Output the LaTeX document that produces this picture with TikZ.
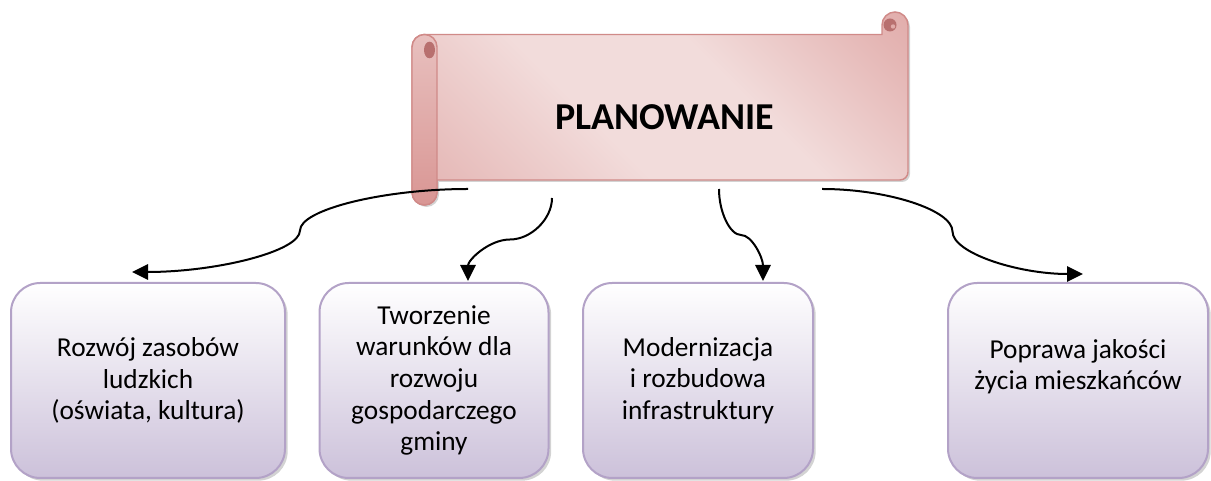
\documentclass[tikz,border=0pt]{standalone}
\usepackage{fontspec}
\setmainfont{Carlito}
\usepackage{tikz}
\usetikzlibrary{positioning,calc,arrows.meta,shadows}
\definecolor{rosedark}{HTML}{D99694}
\definecolor{roselight}{HTML}{F2DCDB}
\definecolor{roseline}{HTML}{D08A88}
\definecolor{rosecurl}{HTML}{B8706F}
\definecolor{lilac}{HTML}{CCC1DA}
\definecolor{lilacline}{HTML}{B3A2C7}
\pgfdeclareverticalshading{scrollfill}{100bp}{color(0bp)=(rosedark!85!roselight); color(22bp)=(rosedark!45!roselight); color(42bp)=(roselight); color(60bp)=(roselight); color(80bp)=(rosedark!55!roselight); color(100bp)=(rosedark)}

\begin{document}
\begin{tikzpicture}[x=0.75pt,y=0.75pt,node distance=0.2cm,on grid,
  box/.style={rectangle,rounded corners=22pt,draw=lilacline,line width=1.5pt,top color=white,bottom color=lilac,minimum height=146.25pt,align=center,font=\fontsize{20.5}{23.75}\selectfont,drop shadow={shadow xshift=2pt,shadow yshift=-2pt,opacity=0.35}},
  conn/.style={-{Triangle[length=12pt,width=11.5pt]},line width=1.5pt}]
\useasboundingbox (0,0) rectangle (1211,481);
\path[draw=roseline,line width=1.1pt,shading=scrollfill,shading angle=-45,drop shadow={shadow xshift=1.5pt,shadow yshift=-1.5pt,opacity=0.35}] (424.5,446.5) -- (882,446.5) -- (882,456) arc[start angle=180,end angle=0,radius=13] -- (908,309) arc[start angle=0,end angle=-90,radius=8] -- (437,301) -- (437,288.5) arc[start angle=0,end angle=-180,radius=12.5] -- (412,434) arc[start angle=180,end angle=90,radius=12.5] -- cycle;
\path[draw=roseline,line width=1.1pt,top color=roselight!60!rosedark,bottom color=rosedark] (412,434) -- (412,288.5) arc[start angle=180,end angle=360,radius=12.5] -- (437,434) arc[start angle=0,end angle=180,radius=12.5] -- cycle;
\fill[rosecurl] (429.5,431) ellipse[x radius=5.5,y radius=8.3];
\fill[rosecurl] (890,456) circle[radius=6.5];
\fill[rosedark!70!roselight] (893,454.5) circle[radius=2.2];
\node[font=\fontsize{28.5}{32}\selectfont\bfseries] (q_p) at (664.5,364) {PLANOWANIE};
\node[box,minimum width=205.5pt] (q_a) at (148,100.5) {Rozwój zasobów\\ ludzkich\\ (oświata, kultura)};
\node[box,minimum width=171.75pt,right=214.5pt of q_a] (q_b) {Tworzenie\\ warunków dla\\ rozwoju\\ gospodarczego\\ gminy};
\node[box,minimum width=172.5pt,right=198pt of q_b] (q_c) {Modernizacja\\ i rozbudowa\\ infrastruktury};
\node[box,minimum width=195pt,right=285pt of q_c] (q_d) {Poprawa jakości\\ życia mieszkańców\\ \mbox{}};
\coordinate (q_0) at (468,292);
\coordinate (q_1) at (552,283);
\coordinate (q_2) at (719,292);
\coordinate (q_3) at (822,292);
\coordinate (q_a0) at ([xshift=-12pt,yshift=7.5pt]q_a.north);
\coordinate (q_b0) at ([xshift=25.5pt,yshift=0.75pt]q_b.north);
\coordinate (q_c0) at ([xshift=48.75pt,yshift=0.75pt]q_c.north);
\coordinate (q_d0) at ([xshift=3.75pt,yshift=6pt]q_d.north);
\coordinate (q_m0) at ($(q_0)!0.5!(q_a0)$);
\coordinate (q_m1) at ($(q_1)!0.5!(q_b0)$);
\coordinate (q_m2) at ($(q_2)!0.5!(q_c0)$);
\coordinate (q_m3) at ($(q_3)!0.5!(q_d0)$);
\draw[conn] (q_0) .. controls +(-84,0) and +(0,21) .. (q_m0) .. controls +(0,-21) and +(84,0) .. (q_a0);
\draw[conn] (q_1) .. controls +(0,-21) and +(21,0) .. (q_m1) .. controls +(-21,0) and +(0,21) .. (q_b0);
\draw[conn] (q_2) .. controls +(0,-23.25) and +(-11,0) .. (q_m2) .. controls +(11,0) and +(0,23.25) .. (q_c0);
\draw[conn] (q_3) .. controls +(65.25,0) and +(0,21.5) .. (q_m3) .. controls +(0,-21.5) and +(-65.25,0) .. (q_d0);
\end{tikzpicture}
\end{document}
